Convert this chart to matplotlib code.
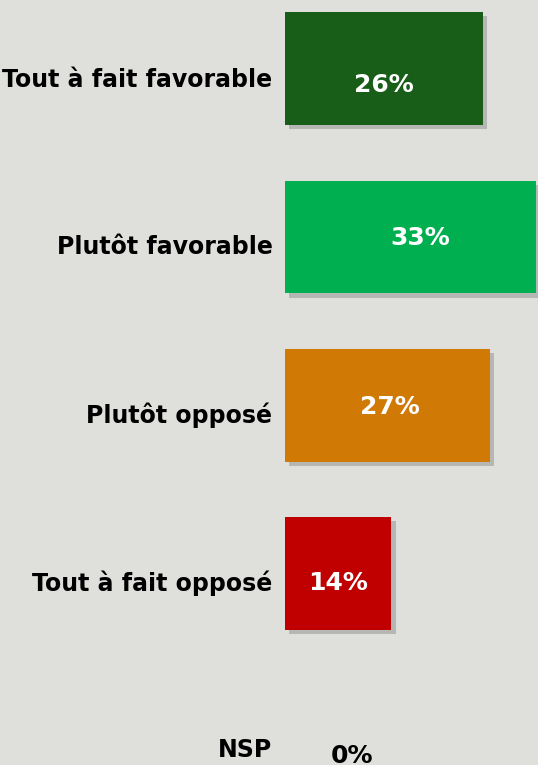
import matplotlib
matplotlib.use("Agg")
import matplotlib.pyplot as plt
import matplotlib.patheffects as pe

categories = ["Tout à fait favorable", "Plutôt favorable", "Plutôt opposé", "Tout à fait opposé", "NSP"]
values = [26, 33, 27, 14, 0]
value_labels = ["26%", "33%", "27%", "14%", "0%"]
colors = ["#185e19", "#00b050", "#d07a05", "#c00000", "#c00000"]
label_colors = ["white", "white", "white", "white", "black"]
# label offsets in points (style tweaks)
label_dx = [0, 7, 2, 0, 48]
label_dy = [-12, -1, -1, -7, -10]
cat_dy = [-8, -7, -7, -7, -6]

bg = "#dfe0db"
fig = plt.figure(figsize=(5.38, 7.65), dpi=100, facecolor=bg)
ax = fig.add_axes([285 / 538, 0, 1 - 285 / 538, 1])
ax.set_facecolor(bg)

ypos = list(range(len(categories)))
bars = ax.barh(ypos, values, height=0.67, color=colors, zorder=3)
for b in bars:
    b.set_path_effects([pe.SimplePatchShadow(offset=(3, -3), shadow_rgbFace="#7a7a7a", alpha=0.4), pe.Normal()])

ax.set_xlim(0, 33.3)
ax.set_ylim(4.136, -0.407)

for y, v, lab, c, dx, dy in zip(ypos, values, value_labels, label_colors, label_dx, label_dy):
    ax.annotate(lab, (v / 2, y), xytext=(dx, dy), textcoords="offset points",
                ha="center", va="center", color=c, fontsize=18, fontweight="bold", zorder=5,
                annotation_clip=False)

for y, cat, dy in zip(ypos, categories, cat_dy):
    ax.annotate(cat, (0, y), xytext=(-9, dy), textcoords="offset points",
                ha="right", va="center", color="black", fontsize=17, fontweight="bold",
                annotation_clip=False)

ax.set_xticks([])
ax.set_yticks([])
for s in ax.spines.values():
    s.set_visible(False)

fig.savefig("out.png", dpi=100, facecolor=bg)
